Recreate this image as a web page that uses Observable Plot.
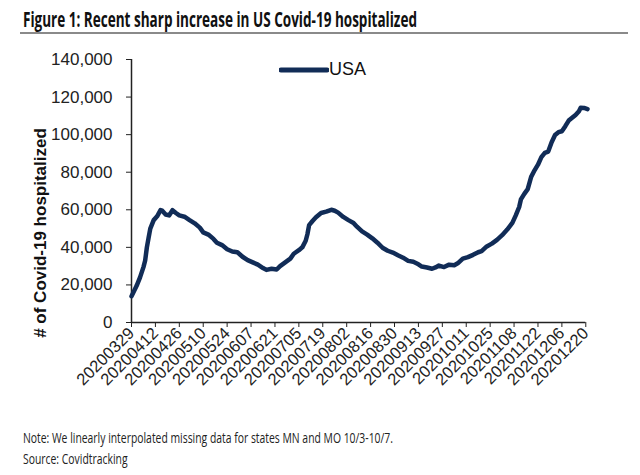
<!DOCTYPE html>
<html><head><meta charset="utf-8">
<script src="https://cdn.jsdelivr.net/npm/d3@7"></script>
<script src="https://cdn.jsdelivr.net/npm/@observablehq/plot@0.6"></script>
<style>
body{margin:0;background:#fff;width:640px;height:475px;position:relative;overflow:hidden;font-family:"Liberation Sans",Arial,sans-serif;}
#title{position:absolute;left:23px;top:9px;font-family:"Open Sans",sans-serif;font-weight:bold;font-size:20.5px;line-height:20.5px;color:#111;white-space:nowrap;transform-origin:0 0;}
#rule{position:absolute;left:20px;top:32px;width:608px;height:2px;background:#8a8a8a;}
#chart{position:absolute;left:0;top:40px;}
#legend{position:absolute;left:279px;top:59px;display:flex;align-items:center;font-size:18px;color:#111;}
#notes{position:absolute;left:23px;top:427px;font-family:"Open Sans",sans-serif;font-size:14px;line-height:21px;color:#222;white-space:nowrap;transform-origin:0 0;}
</style>
</head><body>
<div id="title">Figure 1: Recent sharp increase in US Covid-19 hospitalized</div>
<div id="rule"></div>
<div id="chart"></div>
<div id="legend"><svg width="50" height="10"><line x1="2" y1="5" x2="48" y2="5" stroke="#112c57" stroke-width="5" stroke-linecap="round"/></svg><span>USA</span></div>
<div id="notes"><span id="note1">Note: We linearly interpolated missing data for states MN and MO 10/3-10/7.</span><br>Source: Covidtracking</div>
<script>
const dates = ["20200329","20200401","20200403","20200405","20200406","20200407","20200408","20200409","20200411","20200413",
"20200415","20200416","20200418","20200420","20200422","20200424","20200426","20200429","20200502","20200505",
"20200508","20200510","20200513","20200516","20200518","20200521","20200524","20200527","20200530","20200602",
"20200605","20200608","20200611","20200614","20200616","20200619","20200622","20200624","20200627","20200630",
"20200702","20200705","20200707","20200709","20200710","20200711","20200713","20200715","20200718","20200721",
"20200724","20200726","20200728","20200731","20200803","20200806","20200808","20200811","20200814","20200817",
"20200820","20200823","20200826","20200829","20200901","20200904","20200907","20200910","20200913","20200915",
"20200918","20200921","20200923","20200925","20200928","20201001","20201004","20201006","20201009","20201012",
"20201015","20201018","20201020","20201023","20201026","20201029","20201101","20201104","20201107","20201109",
"20201111","20201112","20201114","20201116","20201118","20201120","20201122","20201124","20201126","20201128",
"20201130","20201202","20201204","20201206","20201208","20201210","20201212","20201214","20201216","20201217",
"20201219","20201221"];
const hospitalized = [14000,19500,24000,29500,33000,40000,45000,50000,54500,56500,
59800,59500,57500,57000,59800,58300,57000,56300,54500,52800,
50500,48000,46800,44500,42500,41200,39000,37800,37400,35000,
33200,32000,30800,29000,28000,28600,28200,30000,32000,34000,
36600,38500,40000,43500,47000,51800,54000,56000,58300,59000,
60000,59500,58500,56200,54500,53000,51000,48500,46800,44800,
42500,39800,38200,37200,35800,34500,32800,32300,31000,29800,
29300,28600,29300,30300,29500,30800,30500,31500,34000,34800,
36000,37400,38000,40500,42000,44000,46500,49500,53000,57000,
61500,65500,68500,71000,77500,81000,84000,88000,90300,91000,
96000,99800,101300,101800,104500,107500,109000,110500,112500,114300,
114200,113600];
const xTickLabels = ["20200329","20200412","20200426","20200510","20200524","20200607","20200621","20200705","20200719","20200802",
"20200816","20200830","20200913","20200927","20201011","20201025","20201108","20201122","20201206","20201220"];
const yTicks = [0,20000,40000,60000,80000,100000,120000,140000];
const yLabel = "# of Covid-19 hospitalized";

// fit condensed-looking title and notes to the reference widths
const t = document.getElementById("title");
t.style.transform = `scaleX(${394 / t.getBoundingClientRect().width})`;
const n = document.getElementById("notes");
n.style.transform = `scaleX(${370 / document.getElementById("note1").getBoundingClientRect().width})`;

const parse = d3.utcParse("%Y%m%d");
const data = dates.map((d, i) => ({date: parse(d), value: hospitalized[i]}));
const xTicks = xTickLabels.map(parse);

const chart = Plot.plot({
  width: 640,
  height: 375,
  marginLeft: 131,
  marginRight: 53,
  marginTop: 19,
  marginBottom: 93,
  style: {fontFamily: "'Liberation Sans', Arial, sans-serif", fontSize: "16px", color: "#222", background: "transparent", overflow: "visible"},
  x: {type: "utc", domain: [xTicks[0], data[data.length - 1].date]},
  y: {domain: [yTicks[0], yTicks[yTicks.length - 1]]},
  marks: [
    Plot.axisY({ticks: yTicks, tickFormat: d3.format(","), tickSize: 5, tickPadding: 14, label: null, fontSize: 17, stroke: "#222", fill: "#222"}),
    Plot.axisX({ticks: xTicks, tickFormat: d3.utcFormat("%Y%m%d"), tickRotate: -45, tickSize: 5, tickPadding: 3, label: null, fontSize: 16.5, stroke: "#222", fill: "#222"}),
    Plot.ruleX([xTicks[0]], {stroke: "#222", strokeWidth: 1.5}),
    Plot.ruleY([yTicks[0]], {x1: () => xTicks[0], x2: () => xTicks[xTicks.length - 1], stroke: "#222", strokeWidth: 1.5}),
    Plot.line(data, {x: "date", y: "value", stroke: "#112c57", strokeWidth: 4.5, strokeLinejoin: "round", strokeLinecap: "round"}),
    Plot.text([yLabel], {frameAnchor: "left", textAnchor: "middle", rotate: -90, dx: -91, dy: 42, fontWeight: "bold", fontSize: 17, fill: "#111"})
  ]
});
document.getElementById("chart").append(chart);
</script>
</body></html>
